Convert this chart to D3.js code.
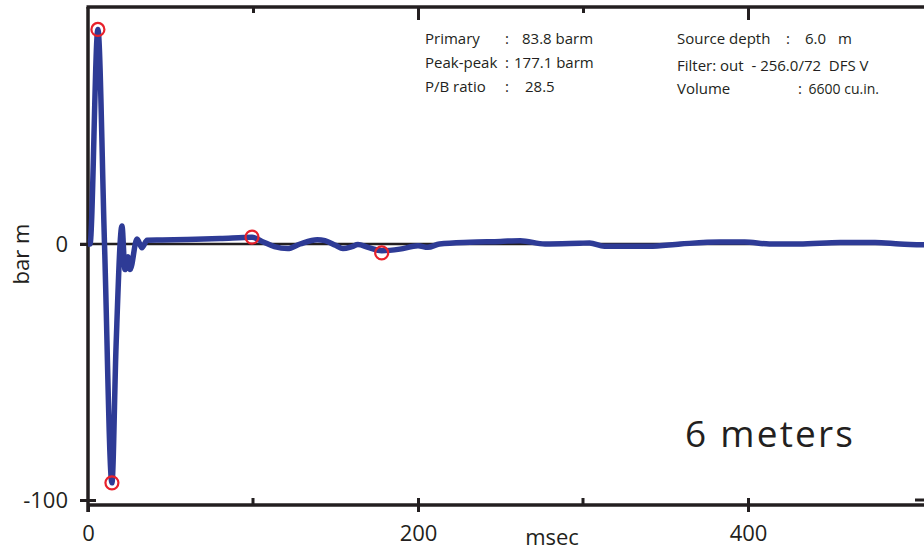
<!DOCTYPE html>
<html>
<head>
<meta charset="utf-8">
<script src="https://cdn.jsdelivr.net/npm/d3@7"></script>
<style>
  body { margin: 0; background: #fff; }
  svg { display: block; }
  text { font-family: "Open Sans", sans-serif; fill: #231f20; white-space: pre; }
</style>
</head>
<body>
<div id="chart"></div>
<script>
// signature (msec, bar m)
const times = [0, 1.2, 6, 10, 14.5, 17, 20.6, 22.4, 24.2, 25.5, 29.7, 32.7, 35.8, 45, 60, 80, 99.4,
  105.5, 113, 121, 128.5, 139, 143.6, 150, 154.5, 160, 163.6, 169.7, 178, 189, 200, 206, 213, 231.5,
  250, 262, 277, 298, 304, 313, 340, 359, 383, 398, 413, 431, 456, 477, 492, 510];
const values = [0, 0, 83.8, 0, -93.3, -40, 7, -10, -5, -10, 2, -1.5, 1.5, 1.6, 1.8, 2.1, 2.6,
  1, -1, -1.8, 0, 1.7, 1.3, -0.5, -1.8, -1, -0.2, -1.3, -2.6, -2, -0.7, -1.3, 0, 0.7,
  1, 1.3, 0, 0.3, 0.4, -0.9, -0.9, 0, 0.8, 0.8, 0, 0, 0.6, 0.6, 0, -0.4];

// picked points (primary, ghost, bubble peaks)
const markT = [6, 14.5, 99.4, 178];
const markV = [83.8, -93.3, 2.7, -3.5];

const xLabelTicks = [0, 200, 400];
const xMinorTicks = [100, 300];
const yTicks = [0, -100];

const leftLabels = ["Primary", "Peak-peak", "P/B ratio"];
const leftValues = ["83.8 barm", "177.1 barm", "28.5"];
const rightLabels = ["Source depth", "Filter: out  - 256.0/72  DFS V", "Volume"];

const width = 924, height = 552;

const x = d3.scaleLinear().domain([0, 500]).range([88, 913]);
const y = d3.scaleLinear().domain([-100, 0]).range([500, 244]);
const yTop = 7, yBottom = 505;

const svg = d3.select("#chart").append("svg")
  .attr("width", width)
  .attr("height", height);

const ink = "#231f20";

// zero line
svg.append("line")
  .attr("x1", 80).attr("x2", width)
  .attr("y1", y(0)).attr("y2", y(0))
  .attr("stroke", ink).attr("stroke-width", 2.5);

// bottom axis
const gBottom = svg.append("g")
  .attr("transform", `translate(0,${yBottom})`)
  .call(d3.axisBottom(x).tickValues(xLabelTicks).tickSize(7).tickPadding(13)
    .tickSizeOuter(0).tickFormat(d => String(d)));
gBottom.select(".domain").attr("d", `M${x(0)},0H${width}`);
gBottom.selectAll(".tick line").attr("y1", d => d === 0 ? 0 : -7);
gBottom.selectAll(".tick text").attr("font-size", 22).attr("font-family", "Open Sans").attr("fill", ink);
svg.append("g")
  .selectAll("line")
  .data(xMinorTicks)
  .join("line")
  .attr("x1", d => x(d)).attr("x2", d => x(d))
  .attr("y1", yBottom).attr("y2", yBottom - 7)
  .attr("stroke", ink).attr("stroke-width", 3);

// top axis
const gTop = svg.append("g")
  .attr("transform", `translate(0,${yTop})`)
  .call(d3.axisTop(x).tickValues([100, 200, 300, 400]).tickSizeOuter(0).tickFormat(""));
gTop.select(".domain").attr("d", `M${x(0) - 1.5},0H${width}`);
gTop.selectAll(".tick line").attr("y2", d => d % 200 === 0 ? 13 : 6);

// left axis
const gLeft = svg.append("g")
  .attr("transform", `translate(${x(0)},0)`)
  .call(d3.axisLeft(y).tickValues(yTicks).tickSize(8).tickPadding(12)
    .tickSizeOuter(0).tickFormat(d => String(d)));
gLeft.select(".domain").attr("d", `M0,${yTop}V${yBottom + 7}`);
gLeft.selectAll(".tick line").attr("x2", -8).attr("x1", d => d === -100 ? 8 : 0);
gLeft.selectAll(".tick text").attr("font-size", 22).attr("font-family", "Open Sans").attr("fill", ink);

// right axis tick at -100 (frame runs just off the page)
svg.append("line")
  .attr("x1", 915).attr("x2", width)
  .attr("y1", y(-100)).attr("y2", y(-100))
  .attr("stroke", ink).attr("stroke-width", 3);

svg.selectAll(".domain").attr("stroke", ink).attr("stroke-width", 3.5);
svg.selectAll(".tick line").attr("stroke", ink).attr("stroke-width", 3);

// axis titles
svg.append("text")
  .attr("x", 552).attr("y", 545)
  .attr("text-anchor", "middle")
  .attr("font-size", 22)
  .text("msec");
svg.append("text")
  .attr("transform", "translate(29,254) rotate(-90)")
  .attr("text-anchor", "middle")
  .attr("font-size", 22)
  .text("bar m");

// signature
const pts = times.map((t, i) => [t, values[i]]);
const sigLine = d3.line()
  .x(d => x(d[0]))
  .y(d => y(d[1]))
  .curve(d3.curveMonotoneX);
svg.append("path")
  .datum(pts)
  .attr("d", sigLine)
  .attr("fill", "none")
  .attr("stroke", "#2e3b96")
  .attr("stroke-width", 5.5)
  .attr("stroke-linejoin", "miter")
  .attr("stroke-miterlimit", 20);

// picked points
svg.append("g")
  .selectAll("circle")
  .data(markT)
  .join("circle")
  .attr("cx", d => x(d))
  .attr("cy", (d, i) => y(markV[i]))
  .attr("r", 6.5)
  .attr("fill", "none")
  .attr("stroke", "#e8212b")
  .attr("stroke-width", 2.2);

// header text
const hdr = svg.append("g").attr("font-size", 15);
const rowY = [44, 68, 92];
leftLabels.forEach((txt, i) => {
  hdr.append("text").attr("x", 425).attr("y", rowY[i]).text(txt);
  hdr.append("text").attr("x", 505).attr("y", rowY[i]).text(":");
  hdr.append("text").attr("x", [522, 514, 525][i]).attr("y", rowY[i]).text(leftValues[i]);
});
const rightY = [44, 71, 94];
rightLabels.forEach((txt, i) => {
  hdr.append("text").attr("x", 677).attr("y", rightY[i]).text(txt);
});
hdr.append("text").attr("x", 786).attr("y", rightY[0]).text(":");
hdr.append("text").attr("x", 805).attr("y", rightY[0]).text("6.0");
hdr.append("text").attr("x", 838).attr("y", rightY[0]).text("m");
hdr.append("text").attr("x", 798).attr("y", rightY[2]).text(":");
hdr.append("text").attr("x", 879).attr("y", rightY[2]).attr("text-anchor", "end")
  .attr("font-size", 14).text("6600 cu.in.");

svg.append("text")
  .attr("x", 685).attr("y", 447)
  .attr("font-size", 37)
  .attr("textLength", 168)
  .attr("lengthAdjust", "spacing")
  .text("6 meters");
</script>
</body>
</html>
